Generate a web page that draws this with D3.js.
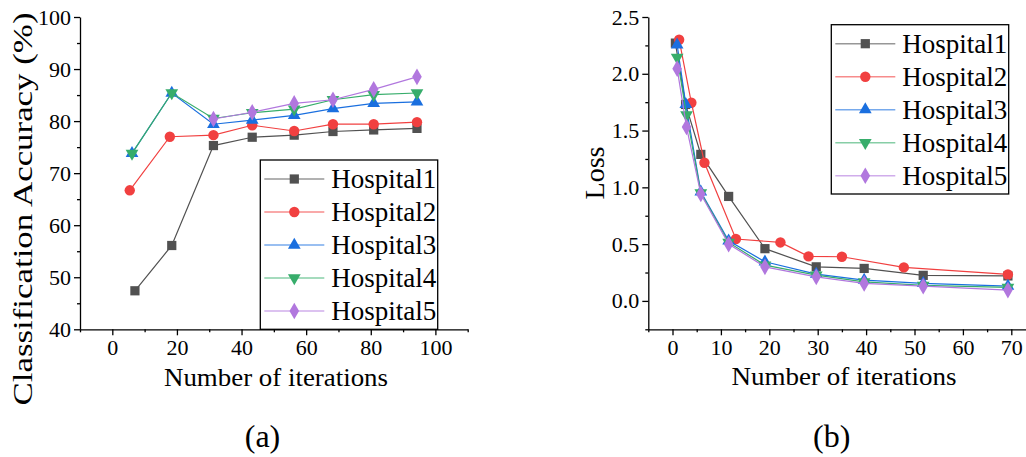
<!DOCTYPE html>
<html>
<head>
<meta charset="utf-8">
<script src="https://cdn.jsdelivr.net/npm/d3@7"></script>
<style>
  body { margin: 0; background: #fff; }
  svg text { font-family: "Liberation Serif", "Times New Roman", serif; }
</style>
</head>
<body>
<svg id="fig" width="1026" height="457"></svg>
<script>
// series names and colours (Origin default palette)
var names = ['Hospital1', 'Hospital2', 'Hospital3', 'Hospital4', 'Hospital5'];
var colors = ['#515151', '#F14040', '#1A6FDF', '#37AD6B', '#B177DE'];
var shapes = [d3.symbolSquare, d3.symbolCircle, d3.symbolTriangle, 'down', d3.symbolDiamond];

// (a) classification accuracy
var accTail = [31.3, 43.3, 56.3, 68.3, 80.9, 94.3];
var accX1 = [7.0, 18.4].concat(accTail);
var accX2 = [5.4, 17.8].concat(accTail);
var accX3 = [6.1, 18.4].concat(accTail);
var accX4 = [6.1, 18.4].concat(accTail);
var accX5 = accTail;
var accY1 = [47.4, 56.1, 75.3, 76.9, 77.3, 78.0, 78.3, 78.6];
var accY2 = [66.7, 77.0, 77.3, 79.2, 78.1, 79.4, 79.4, 79.8];
var accY3 = [73.8, 85.4, 79.4, 80.2, 81.1, 82.4, 83.4, 83.7];
var accY4 = [73.8, 85.4, 80.5, 81.6, 82.3, 84.1, 85.1, 85.4];
var accY5 = [80.4, 81.7, 83.4, 84.1, 86.1, 88.5];

// (b) loss
var lossX1 = [0.6, 2.7, 5.85, 11.6, 19.1, 29.7, 39.6, 51.8, 69.3];
var lossX2 = [1.37, 3.9, 6.6, 13.1, 22.3, 28.1, 35.0, 47.8, 69.3];
var lossX3 = [0.96, 2.75, 5.85, 11.6, 19.1, 29.7, 39.6, 51.8, 69.3];
var lossX4 = [0.96, 2.9, 5.85, 11.6, 19.1, 29.7, 39.6, 51.8, 69.3];
var lossX5 = [0.96, 2.9, 5.85, 11.6, 19.1, 29.7, 39.6, 51.8, 69.3];
var lossY1 = [2.27, 1.73, 1.29, 0.92, 0.46, 0.30, 0.286, 0.225, 0.22];
var lossY2 = [2.30, 1.745, 1.217, 0.545, 0.515, 0.392, 0.389, 0.295, 0.233];
var lossY3 = [2.254, 1.73, 0.961, 0.53, 0.345, 0.236, 0.183, 0.154, 0.13];
var lossY4 = [2.145, 1.637, 0.952, 0.515, 0.315, 0.227, 0.168, 0.137, 0.119];
var lossY5 = [2.045, 1.531, 0.941, 0.50, 0.30, 0.212, 0.154, 0.13, 0.095];

var accTicksX = [0, 20, 40, 60, 80, 100];
var accTicksY = [40, 50, 60, 70, 80, 90, 100];
var lossTicksX = [0, 10, 20, 30, 40, 50, 60, 70];
var lossTicksY = [0, 0.5, 1.0, 1.5, 2.0, 2.5];

var serif = '"Liberation Serif", "Times New Roman", serif';
var svg = d3.select('#fig');

function zip(xs, ys) { return xs.map(function (x, i) { return [x, ys[i]]; }); }

function marker(g, k, x, y) {
  if (shapes[k] === 'down') {
    g.append('path')
      .attr('d', d3.symbol().type(d3.symbolTriangle).size(70)())
      .attr('transform', 'translate(' + x + ',' + y + ') rotate(180)')
      .attr('fill', colors[k]);
    return;
  }
  var size = k === 0 ? 85 : (k === 1 ? 85 : (k === 4 ? 80 : 70));
  g.append('path')
    .attr('d', d3.symbol().type(shapes[k]).size(size)())
    .attr('transform', 'translate(' + x + ',' + y + ')')
    .attr('fill', colors[k]);
}

function panel(opt) {
  var x = d3.scaleLinear().domain(opt.xDomain).range(opt.xRange);
  var y = d3.scaleLinear().domain(opt.yDomain).range(opt.yRange);
  var g = svg.append('g').attr('font-family', serif);

  // minor ticks
  g.append('g').attr('transform', 'translate(0,' + opt.yRange[0] + ')')
    .call(d3.axisBottom(x).tickValues(opt.xMinor).tickSize(3).tickFormat(''))
    .call(function (a) { a.select('.domain').remove(); });
  g.append('g').attr('transform', 'translate(' + opt.xRange[0] + ',0)')
    .call(d3.axisLeft(y).tickValues(opt.yMinor).tickSize(3).tickFormat(''))
    .call(function (a) { a.select('.domain').remove(); });

  g.append('g').attr('transform', 'translate(0,' + opt.yRange[0] + ')')
    .call(d3.axisBottom(x).tickValues(opt.xTicks).tickSize(6).tickSizeOuter(0).tickPadding(4));
  g.append('g').attr('transform', 'translate(' + opt.xRange[0] + ',0)')
    .call(d3.axisLeft(y).tickValues(opt.yTicks).tickSize(6).tickSizeOuter(0).tickPadding(3)
      .tickFormat(opt.yFormat));
  g.selectAll('g').attr('font-family', serif);
  g.selectAll('.domain, .tick line').attr('stroke', '#000').attr('stroke-width', 1.3);
  g.selectAll('.tick text').attr('font-family', serif)
    .attr('font-size', 22).attr('fill', '#000');

  // series
  opt.series.forEach(function (pts, k) {
    g.append('path')
      .datum(pts)
      .attr('fill', 'none')
      .attr('stroke', colors[k])
      .attr('stroke-width', 1.2)
      .attr('d', d3.line().x(function (d) { return x(d[0]); }).y(function (d) { return y(d[1]); }));
    pts.forEach(function (d) { marker(g, k, x(d[0]), y(d[1])); });
  });

  // legend
  var L = opt.legend;
  g.append('rect').attr('x', L.x).attr('y', L.y).attr('width', L.w).attr('height', L.h)
    .attr('fill', '#fff').attr('stroke', '#000').attr('stroke-width', 1.3);
  names.forEach(function (n, k) {
    var cy = L.y + 19 + k * 33;
    g.append('line').attr('x1', L.x + 4).attr('x2', L.x + 64).attr('y1', cy).attr('y2', cy)
      .attr('stroke', colors[k]).attr('stroke-width', 1.5).attr('stroke-opacity', 0.6);
    marker(g, k, L.x + 34, cy);
    g.append('text').attr('x', L.x + 71).attr('y', cy + 9).attr('font-family', serif)
      .attr('font-size', 27).text(n);
  });

  // titles
  g.append('text').attr('x', opt.xTitle[0]).attr('y', opt.xTitle[1]).attr('text-anchor', 'middle')
    .attr('font-family', serif).attr('font-size', 26)
    .attr('textLength', opt.xTitle[2]).attr('lengthAdjust', 'spacingAndGlyphs')
    .text('Number of iterations');
  g.append('text').attr('transform', 'translate(' + opt.yTitle[0] + ',' + opt.yTitle[1] + ') rotate(-90)')
    .attr('text-anchor', 'middle').attr('font-family', serif).attr('font-size', opt.yTitle[4])
    .attr('textLength', opt.yTitle[2]).attr('lengthAdjust', 'spacingAndGlyphs')
    .text(opt.yTitle[3]);
  g.append('text').attr('x', opt.tag[0]).attr('y', opt.tag[1]).attr('text-anchor', 'middle')
    .attr('font-family', serif).attr('font-size', 32).text(opt.tag[2]);
}

panel({
  xDomain: [-10, 110], xRange: [80, 467.7],
  yDomain: [40, 100], yRange: [329.3, 17],
  xTicks: accTicksX, xMinor: [-10, 10, 30, 50, 70, 90, 110],
  yTicks: accTicksY, yMinor: [45, 55, 65, 75, 85, 95],
  yFormat: d3.format('d'),
  series: [zip(accX1, accY1), zip(accX2, accY2), zip(accX3, accY3), zip(accX4, accY4), zip(accX5, accY5)],
  legend: { x: 260.3, y: 160, w: 177.4, h: 169.3 },
  xTitle: [276, 386, 224],
  yTitle: [32, 209, 393, 'Classification Accuracy (%)', 27],
  tag: [262.5, 447, '(a)']
});

panel({
  xDomain: [-5, 75], xRange: [648.3, 1035.5],
  yDomain: [-0.25, 2.5], yRange: [329.3, 17],
  xTicks: lossTicksX, xMinor: [-5, 5, 15, 25, 35, 45, 55, 65, 75],
  yTicks: lossTicksY, yMinor: [-0.25, 0.25, 0.75, 1.25, 1.75, 2.25],
  yFormat: d3.format('.1f'),
  series: [zip(lossX1, lossY1), zip(lossX2, lossY2), zip(lossX3, lossY3), zip(lossX4, lossY4), zip(lossX5, lossY5)],
  legend: { x: 831.3, y: 24.7, w: 177.4, h: 169.3 },
  xTitle: [844, 385, 225],
  yTitle: [604, 173, 53, 'Loss', 27],
  tag: [831.7, 447, '(b)']
});
</script>
</body>
</html>
